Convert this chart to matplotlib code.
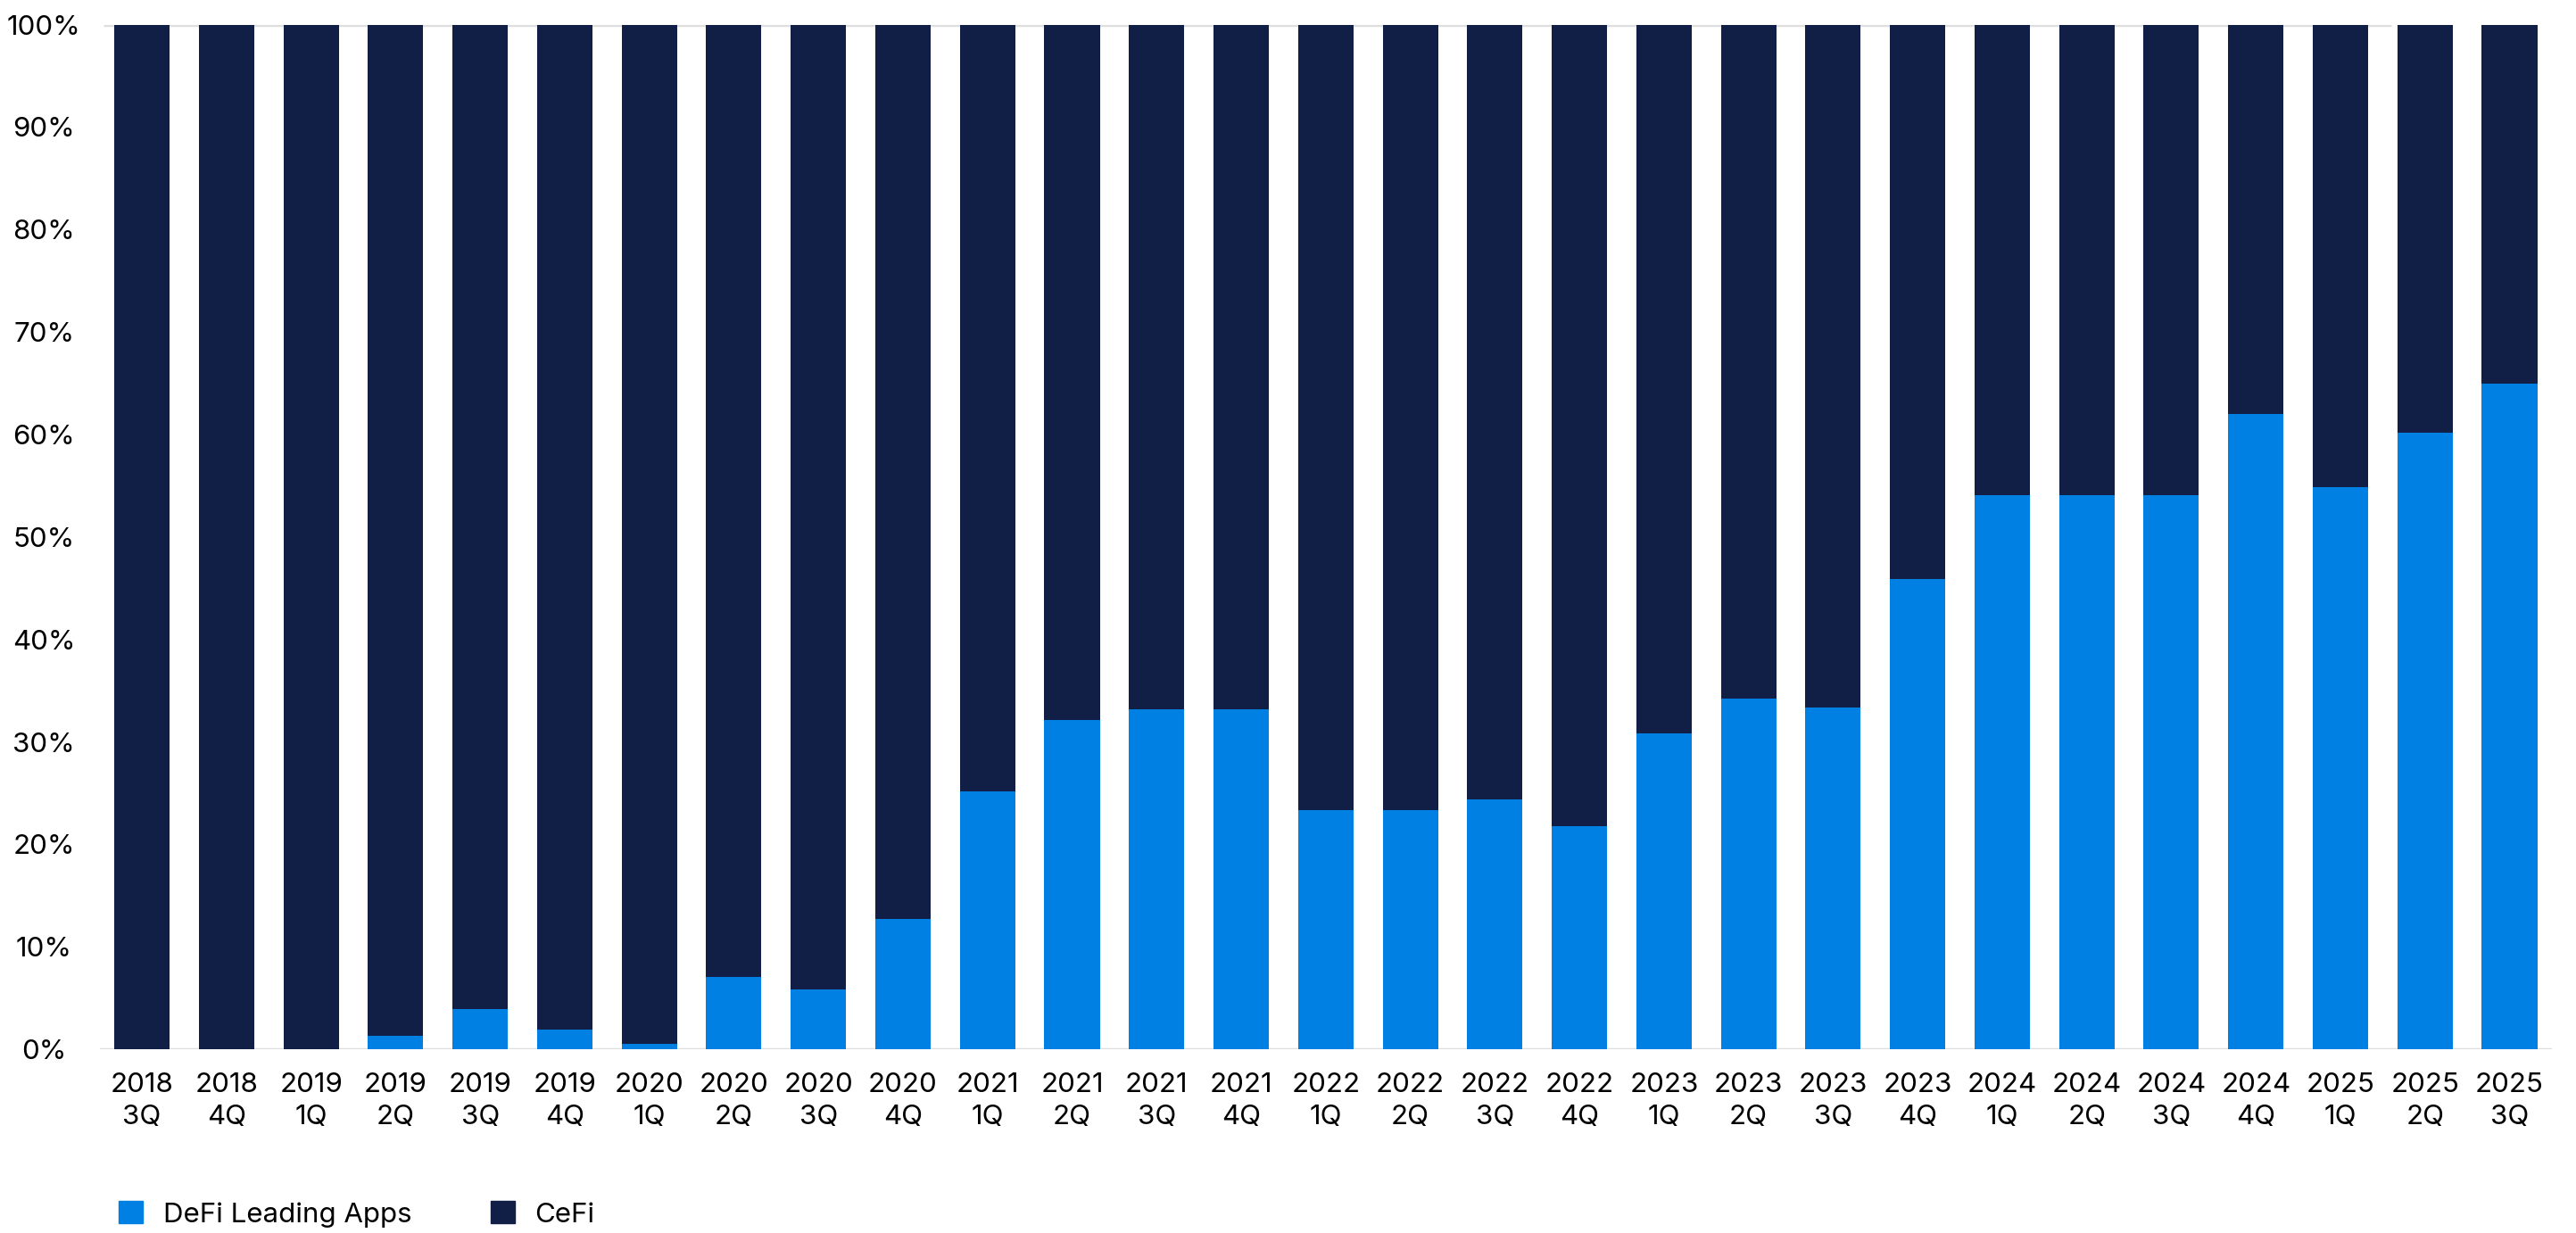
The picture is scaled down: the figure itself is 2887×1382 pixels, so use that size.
import matplotlib
matplotlib.use("Agg")
import matplotlib.pyplot as plt
from matplotlib.patches import Patch
import numpy as np

# --- Data ---
quarters = ["2018\n3Q", "2018\n4Q", "2019\n1Q", "2019\n2Q", "2019\n3Q", "2019\n4Q",
            "2020\n1Q", "2020\n2Q", "2020\n3Q", "2020\n4Q", "2021\n1Q", "2021\n2Q",
            "2021\n3Q", "2021\n4Q", "2022\n1Q", "2022\n2Q", "2022\n3Q", "2022\n4Q",
            "2023\n1Q", "2023\n2Q", "2023\n3Q", "2023\n4Q", "2024\n1Q", "2024\n2Q",
            "2024\n3Q", "2024\n4Q", "2025\n1Q", "2025\n2Q", "2025\n3Q"]
defi = [0, 0, 0, 1.3, 3.9, 1.9, 0.5, 7.1, 5.8, 12.7, 25.2, 32.1, 33.2, 33.2,
        23.3, 23.3, 24.4, 21.8, 30.8, 34.2, 33.4, 45.9, 54.1, 54.1, 54.1, 62.0,
        54.9, 60.2, 65.0]
cefi = [100 - v for v in defi]

DEFI_COLOR = "#0180E3"
CEFI_COLOR = "#111E46"
GRID_COLOR = "#DEDEDE"

plt.rcParams['font.family'] = ['Inter', 'DejaVu Sans']

# --- Plot ---
fig = plt.figure(figsize=(28.87, 13.82), dpi=100)
ax = fig.add_axes([0.0387, 0.149, 0.9519, 0.831])

x = np.arange(len(quarters))
ax.bar(x, defi, width=0.655, color=DEFI_COLOR, zorder=3)
ax.bar(x, cefi, width=0.655, bottom=defi, color=CEFI_COLOR, zorder=3)

ax.set_xlim(-0.5, len(quarters) - 0.5)
ax.set_ylim(0, 100)
ax.set_yticks(np.arange(0, 101, 10))
ax.set_yticklabels([f"{v}%" for v in range(0, 101, 10)])
ax.set_xticks(x)
ax.set_xticklabels(quarters, linespacing=1.35)

for s in ax.spines.values():
    s.set_visible(False)
ax.axhline(0, color=GRID_COLOR, lw=2.5, zorder=2)
ax.hlines(100, -0.45, 26.6, color=GRID_COLOR, lw=2.5, zorder=2)

ax.tick_params(axis='both', length=0, labelsize=22.5, colors='black')
ax.tick_params(axis='x', pad=19)
ax.tick_params(axis='y', pad=45)
for lbl in ax.get_yticklabels():
    lbl.set_horizontalalignment('center')

handles = [Patch(color=DEFI_COLOR, label="DeFi Leading Apps"),
           Patch(color=CEFI_COLOR, label="CeFi")]
fig.legend(handles=handles, loc='lower left', bbox_to_anchor=(0.044, 0.0),
           ncol=2, frameon=False, fontsize=22.5, handlelength=0.85,
           handleheight=0.85, handletextpad=0.73, columnspacing=2.85,
           borderpad=0.2, borderaxespad=0)

fig.savefig("out.png", dpi=100)
